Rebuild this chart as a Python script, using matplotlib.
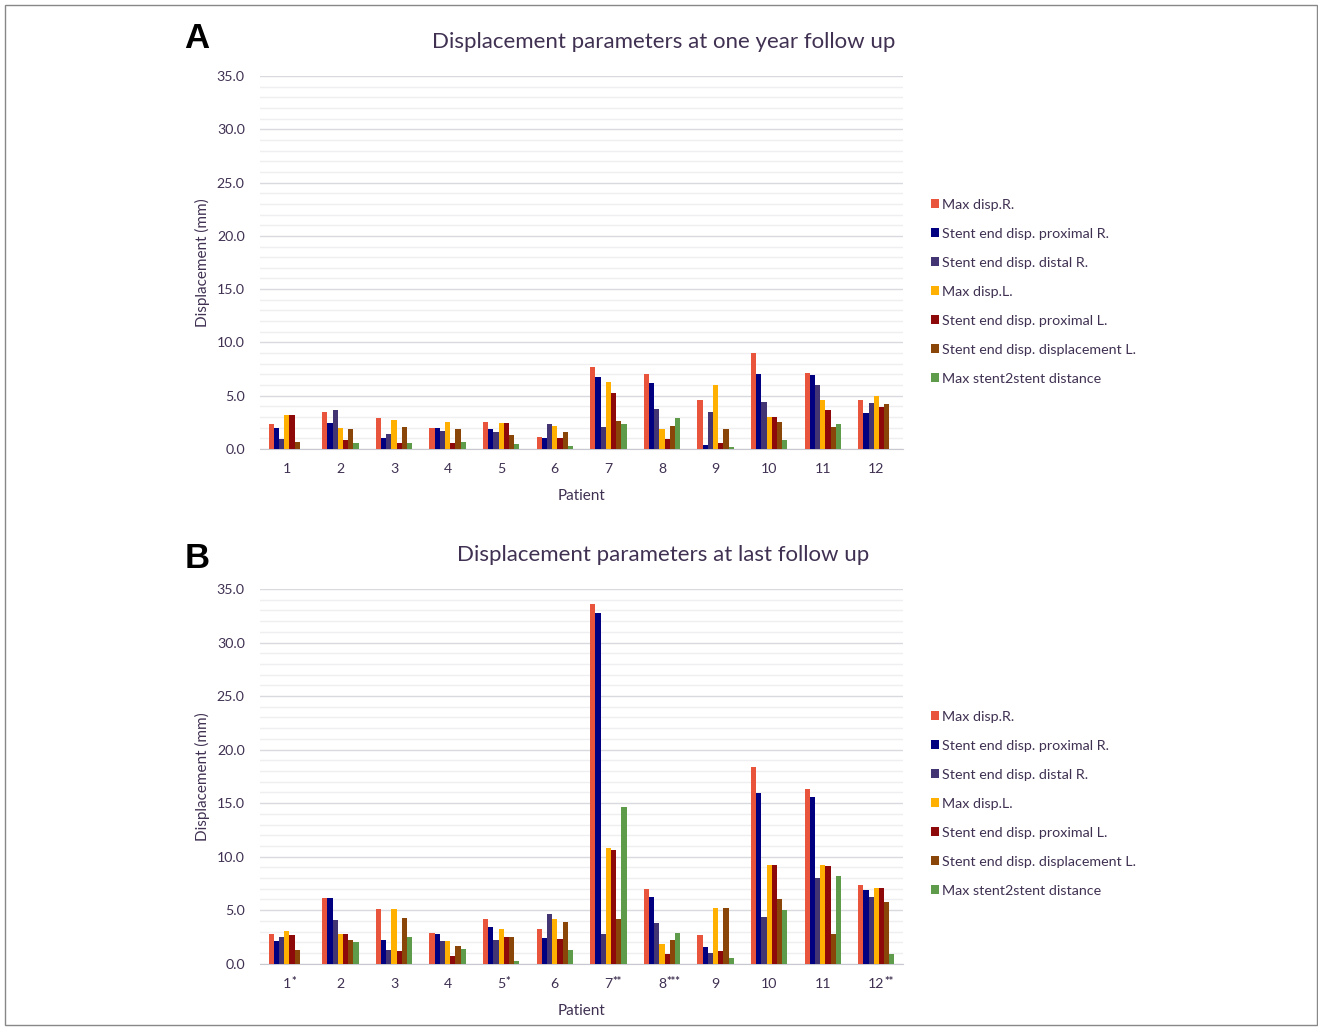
import numpy as np
import matplotlib
matplotlib.use('Agg')
import matplotlib.pyplot as plt
from matplotlib.patches import Rectangle

plt.rcParams['font.family'] = ['Lato', 'DejaVu Sans']

txt = '#403152'

series = ['Max disp.R.', 'Stent end disp. proximal R.', 'Stent end disp. distal R.',
          'Max disp.L.', 'Stent end disp. proximal L.', 'Stent end disp. displacement L.',
          'Max stent2stent distance']
colors = ['#e8543c', '#000080', '#433474', '#ffb000', '#8e0a0a', '#8a4508', '#5e9c4c']

patients = ['1', '2', '3', '4', '5', '6', '7', '8', '9', '10', '11', '12']
# asterisk marks on the last follow up tick labels
stars_b = ['*', '', '', '', '*', '', '**', '***', '', '', '', '**']

# one year follow up
max_r_a = [2.3, 3.5, 2.9, 2.0, 2.5, 1.1, 7.7, 7.0, 4.6, 9.0, 7.1, 4.6]
prox_r_a = [2.0, 2.4, 1.0, 2.0, 1.9, 1.0, 6.8, 6.2, 0.4, 7.0, 6.9, 3.4]
dist_r_a = [0.9, 3.7, 1.4, 1.7, 1.6, 2.3, 2.1, 3.8, 3.5, 4.4, 6.0, 4.3]
max_l_a = [3.2, 2.0, 2.7, 2.5, 2.4, 2.2, 6.3, 1.9, 6.0, 3.0, 4.6, 5.0]
prox_l_a = [3.2, 0.8, 0.6, 0.6, 2.4, 1.0, 5.3, 0.9, 0.6, 3.0, 3.7, 3.9]
displ_l_a = [0.7, 1.9, 2.1, 1.9, 1.3, 1.6, 2.6, 2.2, 1.9, 2.5, 2.1, 4.2]
s2s_a = [0.0, 0.6, 0.6, 0.7, 0.5, 0.3, 2.3, 2.9, 0.2, 0.8, 2.3, 0.0]

# last follow up
max_r_b = [2.8, 6.1, 5.1, 2.9, 4.2, 3.2, 33.6, 7.0, 2.7, 18.4, 16.3, 7.4]
prox_r_b = [2.1, 6.1, 2.2, 2.8, 3.4, 2.4, 32.8, 6.2, 1.6, 15.9, 15.6, 6.9]
dist_r_b = [2.5, 4.1, 1.3, 2.1, 2.2, 4.6, 2.8, 3.8, 1.0, 4.4, 8.0, 6.2]
max_l_b = [3.1, 2.8, 5.1, 2.1, 3.2, 4.2, 10.8, 1.8, 5.2, 9.2, 9.2, 7.1]
prox_l_b = [2.7, 2.8, 1.2, 0.7, 2.5, 2.3, 10.6, 0.9, 1.2, 9.2, 9.1, 7.1]
displ_l_b = [1.3, 2.2, 4.3, 1.7, 2.5, 3.9, 4.2, 2.2, 5.2, 6.0, 2.8, 5.8]
s2s_b = [0.0, 2.0, 2.5, 1.4, 0.3, 1.3, 14.6, 2.9, 0.5, 5.0, 8.2, 0.9]

data_a = [max_r_a, prox_r_a, dist_r_a, max_l_a, prox_l_a, displ_l_a, s2s_a]
data_b = [max_r_b, prox_r_b, dist_r_b, max_l_b, prox_l_b, displ_l_b, s2s_b]

fig = plt.figure(figsize=(13.18, 10.27), dpi=100)
fig.patches.append(Rectangle((0.004, 0.002), 0.995, 0.993, transform=fig.transFigure,
                             fill=False, edgecolor='#888888', lw=1.0))


def draw_panel(rect, data, title, letter, letter_y, leg_y, stars=None):
    ax = fig.add_axes(rect)
    x = np.arange(len(patients))
    w = 0.097
    for i, vals in enumerate(data):
        ax.bar(x + (i - 3) * w, vals, width=w, color=colors[i], label=series[i], zorder=3)
    ax.set_xlim(-0.5, len(patients) - 0.5)
    ax.set_ylim(0, 35)
    ax.set_yticks(np.arange(0, 36, 5))
    ax.set_yticklabels(['%.1f' % v for v in np.arange(0, 36, 5)])
    ax.set_yticks(np.arange(0, 36, 1), minor=True)
    ax.grid(axis='y', which='major', color='#d9d9e0', lw=1.0, zorder=0)
    ax.grid(axis='y', which='minor', color='#efeff2', lw=1.0, zorder=0)
    ax.set_xticks(x)
    ax.set_xticklabels(patients)
    for s in ['top', 'right', 'left']:
        ax.spines[s].set_visible(False)
    ax.spines['bottom'].set_color('#c8c8d0')
    ax.tick_params(axis='both', which='both', length=0, colors=txt, labelsize=10.2)
    ax.tick_params(axis='x', pad=10)
    ax.tick_params(axis='y', pad=11)
    ax.set_xlabel('Patient', color=txt, fontsize=11, labelpad=10)
    ax.set_ylabel('Displacement (mm)', color=txt, fontsize=11, labelpad=5)
    ax.set_title(title, color=txt, fontsize=16, pad=20, x=0.627)
    fig.text(0.1495, letter_y, letter, fontsize=25, fontweight='bold',
             family='Liberation Sans', ha='center', va='center')
    if stars:
        for xi, lab, st in zip(x, patients, stars):
            if st:
                off = 3.2 if len(lab) == 1 else 5.8
                ax.annotate(st, xy=(xi, 0), xycoords=('data', 'axes fraction'),
                            xytext=(off, -13), textcoords='offset points',
                            ha='left', va='center', fontsize=8, fontweight='bold', color=txt)
    h, l = ax.get_legend_handles_labels()
    leg = fig.legend(h, l, loc='upper left', bbox_to_anchor=(0.702, leg_y), frameon=False,
                     fontsize=10.3, handlelength=0.55, handleheight=0.55, handletextpad=0.25,
                     labelspacing=1.19, borderaxespad=0)
    for t in leg.get_texts():
        t.set_color(txt)
    return ax


draw_panel([0.1973, 0.5628, 0.4879, 0.3632], data_a,
           'Displacement parameters at one year follow up', 'A', 1 - 38 / 1027, 1 - 193 / 1027)
draw_panel([0.1973, 0.0616, 0.4879, 0.3649], data_b,
           'Displacement parameters at last follow up', 'B', 1 - 558 / 1027, 1 - 705 / 1027,
           stars=stars_b)

fig.savefig('out.png', dpi=100)
